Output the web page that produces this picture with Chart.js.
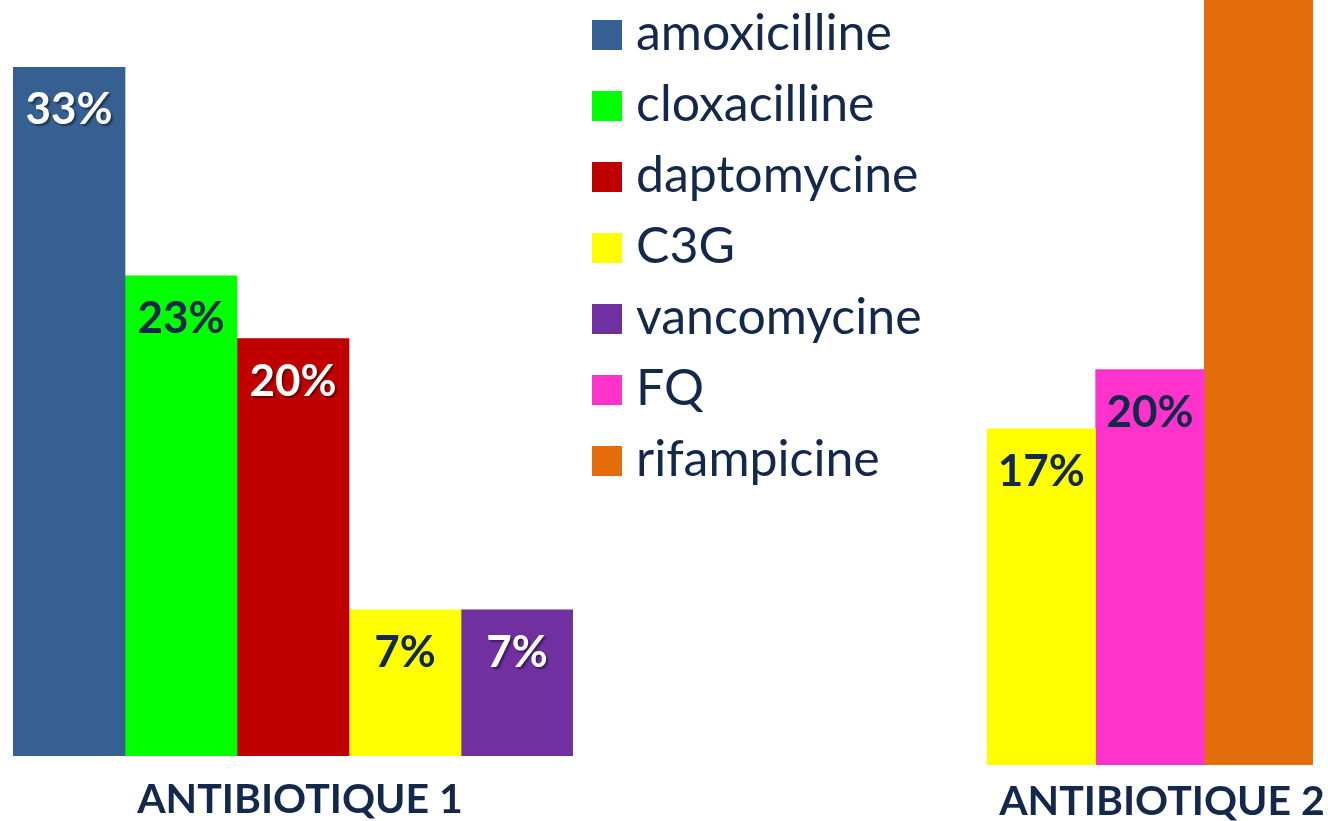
<!DOCTYPE html>
<html>
<head>
<meta charset="utf-8">
<script src="https://cdn.jsdelivr.net/npm/chart.js@4.4.1/dist/chart.umd.min.js"></script>
<style>
  html, body { margin: 0; padding: 0; background: #fff; }
  #page { position: relative; width: 1328px; height: 821px; overflow: hidden; }
  .wrap { position: absolute; top: 0; height: 821px; }
  #wrap1 { left: 0; width: 600px; }
  #wrap2 { left: 960px; width: 368px; }
  #legend { position: absolute; left: 592px; top: 0; font-family: Lato, sans-serif; color: #14284b; z-index: 2; }
  .item { position: absolute; left: 0; height: 30px; display: flex; align-items: center; white-space: nowrap; }
  .swatch { width: 30px; height: 30px; flex: none; }
  .name { margin-left: 14px; font-size: 50px; line-height: 30px; position: relative; top: -4px; }
</style>
</head>
<body>
<div id="page">
  <div class="wrap" id="wrap1"><canvas id="chart1" width="600" height="821"></canvas></div>
  <div class="wrap" id="wrap2"><canvas id="chart2" width="368" height="821"></canvas></div>
  <div id="legend"></div>
</div>
<script>
const antibiotics = ['amoxicilline', 'cloxacilline', 'daptomycine', 'C3G', 'vancomycine', 'FQ', 'rifampicine'];
const groups = ['ANTIBIOTIQUE 1', 'ANTIBIOTIQUE 2'];
const group1Values = [33, 23, 20, 7, 7, null, null];
const group2Values = [null, null, null, 17, null, 20, 63];

const barColors = ['#376092', '#00ff00', '#c00000', '#ffff00', '#7030a0', '#ff33cc', '#e46c0a'];
const labelColors = ['#ffffff', '#14284b', '#ffffff', '#14284b', '#ffffff', '#14284b', '#14284b'];
const navy = '#14284b';

Chart.defaults.font.family = 'Lato, sans-serif';

// legend built from the same arrays
const legend = document.getElementById('legend');
antibiotics.forEach((name, i) => {
  const item = document.createElement('div');
  item.className = 'item';
  item.style.top = (20 + i * 71) + 'px';
  item.innerHTML = '<div class="swatch" style="background:' + barColors[i] + '"></div><span class="name">' + name + '</span>';
  legend.appendChild(item);
});

// percent labels inside the top of each bar
const valueLabels = {
  id: 'valueLabels',
  afterDatasetsDraw(chart) {
    const ctx = chart.ctx;
    ctx.save();
    ctx.font = 'bold 44px Lato, sans-serif';
    ctx.textAlign = 'center';
    ctx.textBaseline = 'middle';
    chart.data.datasets.forEach((ds, i) => {
      const meta = chart.getDatasetMeta(i);
      meta.data.forEach((bar, j) => {
        const v = ds.data[j];
        if (v === null || v === undefined) return;
        const y = bar.y + 43;
        if (y < 0) return;
        if (labelColors[i] === '#ffffff') {
          ctx.shadowColor = 'rgba(0,0,0,0.45)';
          ctx.shadowOffsetX = 2;
          ctx.shadowOffsetY = 2;
          ctx.shadowBlur = 2;
        } else {
          ctx.shadowColor = 'transparent';
        }
        ctx.fillStyle = labelColors[i];
        ctx.fillText(v + '%', bar.x, y);
      });
    });
    ctx.restore();
  }
};

function makeChart(id, group, values, s) {
  new Chart(document.getElementById(id), {
    type: 'bar',
    data: {
      labels: [group],
      datasets: antibiotics.map((name, i) => ({
        label: name,
        data: [values[i]],
        backgroundColor: barColors[i],
        borderWidth: 0
      }))
    },
    options: {
      responsive: false,
      animation: false,
      skipNull: true,
      barPercentage: 1,
      categoryPercentage: 1,
      layout: { padding: { left: s.padLeft, right: s.padRight, top: 0, bottom: 0 } },
      plugins: { legend: { display: false }, tooltip: { enabled: false } },
      scales: {
        x: {
          grid: { display: false, drawTicks: false },
          border: { display: false },
          ticks: {
            color: navy,
            font: { size: 41, weight: 'bold' },
            padding: s.tickPad,
            labelOffset: s.labelShift
          },
          afterFit(scale) {
            scale.height = s.axisHeight;
            scale.paddingLeft = 0;
            scale.paddingRight = 0;
          }
        },
        y: { display: false, min: 0, max: s.yMax }
      }
    },
    plugins: [valueLabels]
  });
}

makeChart('chart1', groups[0], group1Values, { yMax: 36.22, axisHeight: 65, tickPad: 19, labelShift: 7, padLeft: 13, padRight: 27 });
makeChart('chart2', groups[1], group2Values, { yMax: 38.7, axisHeight: 56, tickPad: 12, labelShift: 12, padLeft: 27, padRight: 15 });
</script>
</body>
</html>
